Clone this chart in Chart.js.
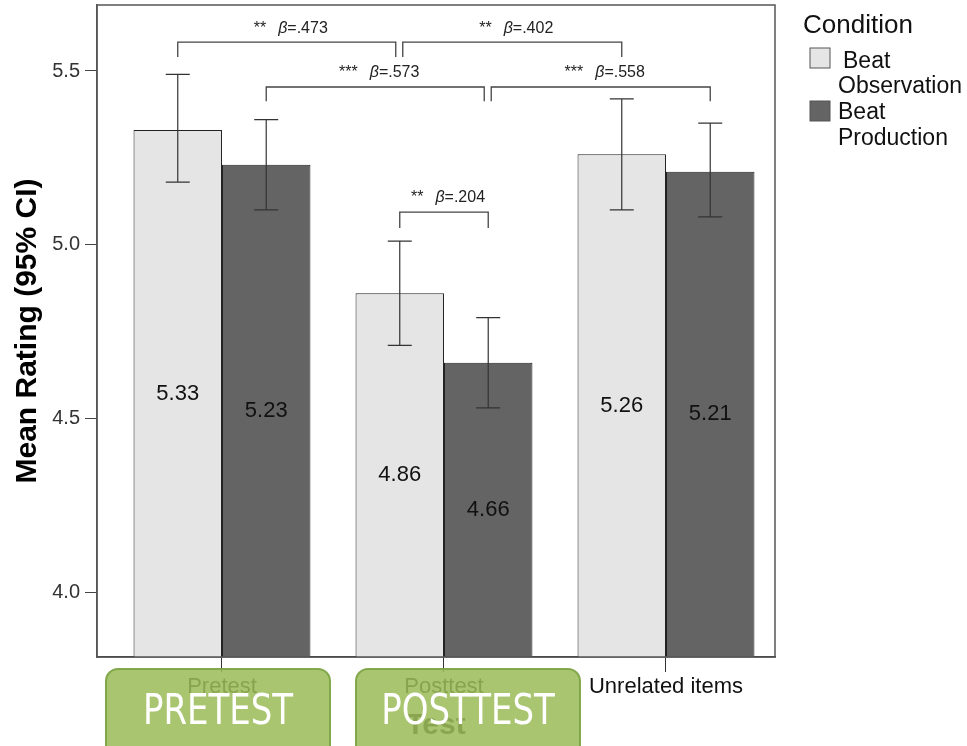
<!DOCTYPE html>
<html>
<head>
<meta charset="utf-8">
<script src="https://cdn.jsdelivr.net/npm/chart.js@4"></script>
<style>
  html, body { margin: 0; padding: 0; background: #fff; }
  #wrap { width: 967px; height: 746px; }
</style>
</head>
<body>
<div id="wrap"><canvas id="barChart" width="967" height="746"></canvas></div>
<script>
const categories = ["Pretest", "Posttest", "Unrelated items"];
const seriesNames = ["Beat Observation", "Beat Production"];
const observation = [5.33, 4.86, 5.26];
const production = [5.23, 4.66, 5.21];
const observationLow = [5.18, 4.71, 5.10];
const observationHigh = [5.49, 5.01, 5.42];
const productionLow = [5.10, 4.53, 5.08];
const productionHigh = [5.36, 4.79, 5.35];
const yTicks = [4.0, 4.5, 5.0, 5.5];
const overlayLabels = ["PRETEST", "POSTTEST"];

// [fromDataset, fromIndex, toDataset, toIndex, bracket y, leg end y, stars, beta]
const brackets = [
    [0, 0, 0, 1, 5.583, 5.540, "**", ".473"],
    [0, 1, 0, 2, 5.583, 5.540, "**", ".402"],
    [1, 0, 1, 1, 5.454, 5.413, "***", ".573"],
    [1, 1, 1, 2, 5.454, 5.413, "***", ".558"],
    [0, 1, 1, 1, 5.094, 5.048, "**", ".204"]
];

const FONT = "'Liberation Sans', Arial, sans-serif";
const lightFill = '#e5e5e5';
const darkFill = '#646464';

const extras = {
    id: 'extras',
    afterDatasetsDraw(chart) {
        const c = chart.ctx;
        const y = chart.scales.y;
        const bottom = chart.chartArea.bottom;
        const lows = [observationLow, productionLow];
        const highs = [observationHigh, productionHigh];
        const vals = [observation, production];

        c.save();
        // error bars
        c.strokeStyle = '#333';
        c.lineWidth = 1.2;
        [0, 1].forEach(d => {
            chart.getDatasetMeta(d).data.forEach((bar, i) => {
                const top = y.getPixelForValue(highs[d][i]);
                const bot = y.getPixelForValue(lows[d][i]);
                c.beginPath();
                c.moveTo(bar.x, top); c.lineTo(bar.x, bot);
                c.moveTo(bar.x - 12, top); c.lineTo(bar.x + 12, top);
                c.moveTo(bar.x - 12, bot); c.lineTo(bar.x + 12, bot);
                c.stroke();
            });
        });

        // values inside bars
        c.fillStyle = '#111';
        c.font = '22px ' + FONT;
        c.textAlign = 'center';
        c.textBaseline = 'middle';
        [0, 1].forEach(d => {
            chart.getDatasetMeta(d).data.forEach((bar, i) => {
                const base = Math.min(bar.base, bottom);
                c.fillText(vals[d][i].toFixed(2), bar.x, (bar.y + base) / 2);
            });
        });

        // significance brackets
        c.strokeStyle = '#444';
        c.lineWidth = 1.3;
        brackets.forEach(b => {
            const a = chart.getDatasetMeta(b[0]).data[b[1]];
            const e = chart.getDatasetMeta(b[2]).data[b[3]];
            const shared1 = brackets.some(o => o !== b && o[4] === b[4] && o[2] === b[0] && o[3] === b[1]);
            const shared2 = brackets.some(o => o !== b && o[4] === b[4] && o[0] === b[2] && o[1] === b[3]);
            const l = a.x + (shared1 ? 3 : 0);
            const r = e.x - (shared2 ? 4 : 0);
            const by = y.getPixelForValue(b[4]);
            const ly = y.getPixelForValue(b[5]);
            c.beginPath();
            c.moveTo(l, ly); c.lineTo(l, by); c.lineTo(r, by); c.lineTo(r, ly);
            c.stroke();

            const eqTxt = '=' + b[7];
            c.font = '16px ' + FONT;
            const w1 = c.measureText(b[6]).width + 12;
            const w3 = c.measureText(eqTxt).width;
            c.font = 'italic 16px ' + FONT;
            const w2 = c.measureText('β').width;
            const tx = (l + r) / 2 - (w1 + w2 + w3) / 2 + 4;
            const ty = by - 14;
            c.textAlign = 'left';
            c.textBaseline = 'middle';
            c.fillStyle = '#222';
            c.font = '16px ' + FONT;
            c.fillText(b[6], tx, ty);
            c.font = 'italic 16px ' + FONT;
            c.fillText('β', tx + w1, ty);
            c.font = '16px ' + FONT;
            c.fillText(eqTxt, tx + w1 + w2, ty);
        });
        c.restore();
    },
    afterDraw(chart) {
        const c = chart.ctx;
        const a = chart.chartArea;
        c.save();
        // frame
        c.strokeStyle = '#555';
        c.lineWidth = 1.5;
        c.strokeRect(a.left, a.top, a.right - a.left, a.bottom - a.top);

        // legend
        const lx = a.right + 28;
        c.fillStyle = '#111';
        c.textAlign = 'left';
        c.textBaseline = 'alphabetic';
        c.font = '26px ' + FONT;
        c.fillText('Condition', lx, 33);
        c.font = '23px ' + FONT;
        const fills = [lightFill, darkFill];
        const rows = [[48, 68, 93, 40], [101, 119, 145, 35]];
        seriesNames.forEach((name, i) => {
            const r = rows[i];
            c.fillStyle = fills[i];
            c.fillRect(lx + 7, r[0], 20, 20);
            c.strokeStyle = '#555';
            c.lineWidth = 1;
            c.strokeRect(lx + 7, r[0], 20, 20);
            const parts = name.split(' ');
            c.fillStyle = '#111';
            c.fillText(parts[0], lx + r[3], r[1]);
            c.fillText(parts.slice(1).join(' '), lx + 35, r[2]);
        });

        // green overlay boxes
        const xs = chart.scales.x;
        const shifts = [-4, 24];
        overlayLabels.forEach((txt, i) => {
            const cx = xs.getPixelForValue(i) + shifts[i];
            const bx = cx - 112;
            const by = 669;
            c.beginPath();
            c.roundRect(bx, by, 224, 90, 12);
            c.fillStyle = 'rgba(155, 187, 89, 0.86)';
            c.fill();
            c.strokeStyle = 'rgba(125, 165, 70, 0.95)';
            c.lineWidth = 2;
            c.stroke();
            c.save();
            c.translate(cx, by + 44);
            c.scale(0.9, 1);
            c.fillStyle = '#fff';
            c.textAlign = 'center';
            c.textBaseline = 'middle';
            c.font = "42px 'DejaVu Sans Condensed', 'Liberation Sans Narrow', sans-serif";
            c.fillText(txt, 0, 0);
            c.restore();
        });
        c.restore();
    }
};

const ctx = document.getElementById('barChart');

new Chart(ctx, {
    type: 'bar',
    data: {
        datasets: [{
            label: seriesNames[0],
            data: observation.map((v, i) => ({ x: i, y: v })),
            backgroundColor: lightFill,
            borderColor: '#222',
            borderWidth: 1
        }, {
            label: seriesNames[1],
            data: production.map((v, i) => ({ x: i, y: v })),
            backgroundColor: darkFill,
            borderColor: '#222',
            borderWidth: 1
        }]
    },
    options: {
        responsive: false,
        animation: false,
        categoryPercentage: 0.797,
        barPercentage: 1,
        layout: { padding: { top: 5, right: 192, bottom: 0, left: 0 } },
        plugins: {
            legend: { display: false },
            tooltip: { enabled: false }
        },
        scales: {
            x: {
                type: 'linear',
                offset: false,
                min: -0.563,
                max: 2.491,
                afterBuildTicks: s => { s.ticks = categories.map((c, i) => ({ value: i })); },
                afterFit: s => { s.height = 89; s.paddingLeft = 0; s.paddingRight = 0; },
                ticks: {
                    callback: v => categories[v],
                    color: '#111',
                    font: { family: FONT, size: 22 },
                    padding: 2,
                    maxRotation: 0,
                    autoSkip: false
                },
                grid: { offset: false, drawOnChartArea: false, tickLength: 15, color: '#333' },
                border: { color: '#333', width: 1.5 },
                title: {
                    display: true,
                    text: 'Test',
                    color: '#222',
                    font: { family: FONT, size: 30, weight: 'bold' },
                    padding: { top: 0, bottom: 2 }
                }
            },
            y: {
                min: 3.813,
                max: 5.69,
                afterBuildTicks: s => { s.ticks = yTicks.map(v => ({ value: v })); },
                afterFit: s => { s.width = 97; s.paddingTop = 0; s.paddingBottom = 0; },
                ticks: {
                    callback: v => v.toFixed(1),
                    color: '#333',
                    font: { family: FONT, size: 20 },
                    padding: 5
                },
                grid: { drawOnChartArea: false, tickLength: 12, color: '#444' },
                border: { color: '#555', width: 1.5 },
                title: {
                    display: true,
                    text: 'Mean Rating (95% CI)',
                    color: '#000',
                    font: { family: FONT, size: 30, weight: 'bold' },
                    padding: { top: 10, bottom: 0 }
                }
            }
        }
    },
    plugins: [extras]
});
</script>
</body>
</html>
